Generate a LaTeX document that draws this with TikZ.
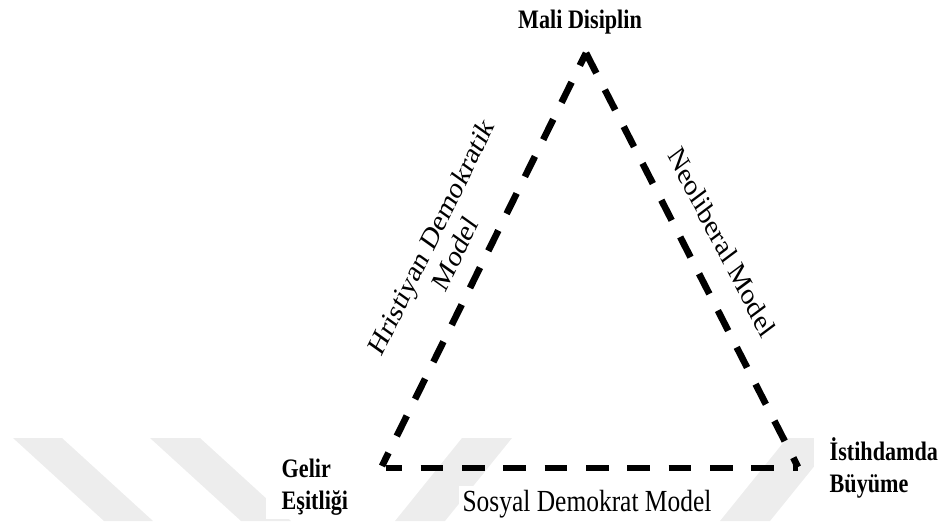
\documentclass[tikz,border=0pt]{standalone}
\usepackage{fontspec}
\setmainfont{Liberation Serif}
\usetikzlibrary{positioning}

\begin{document}
\begin{tikzpicture}[x=0.75pt, y=-0.75pt,
    vertexlbl/.style={font=\fontsize{20}{24}\selectfont\bfseries, xscale=0.83, align=left, fill=white, inner ysep=3pt, inner xsep=14pt},
    sidelbl/.style={font=\fontsize{23}{25}\selectfont, xscale=0.83, align=center, inner sep=3pt},
    dashline/.style={line width=5pt, dash pattern=on 17pt off 14pt},
    wmark/.style={fill=black!7}]

    \useasboundingbox (0,0) rectangle (944,521);

    % watermark
    \fill[wmark] (13,438) -- (62,438) -- (153,521) -- (104,521) -- cycle;
    \fill[wmark] (150,438) -- (200,438) -- (291,521) -- (241,521) -- cycle;
    \fill[wmark] (395,521) -- (462,438) -- (512,438) -- (445,521) -- cycle;
    \fill[wmark] (720,521) -- (787,438) -- (837,438) -- (770,521) -- cycle;

    % corners of the triangle
    \coordinate (top) at (586,53);
    \coordinate (left) at (382,466);
    \coordinate (right) at (798,467);
    \coordinate (bl) at (386,468);
    \coordinate (br) at (798,468);

    % labels
    \node[vertexlbl, fill=none, anchor=base] (mali) at (580,28) {Mali Disiplin};
    \node[vertexlbl, anchor=west] (gelir) at (266,487) {Gelir\\Eşitliği};
    \node[vertexlbl, anchor=west] (istihdam) at (814,468) {İstihdamda\\Büyüme};
    \node[sidelbl, fill=white, anchor=base] (sosyal) at (587,511) {Sosyal Demokrat Model};
    \node[sidelbl, rotate=59.4] (hristiyan) at (443,245) {Hristiyan Demokratik\\Model};
    \node[sidelbl, rotate=-58.2] (neolib) at (722,242) {Neoliberal Model};

    % sides
    \draw[dashline, dash phase=6pt] (left) -- (top);
    \draw[dashline] (top) -- (right);
    \draw[dashline, dash phase=5pt] (bl) -- (br);

\end{tikzpicture}
\end{document}
